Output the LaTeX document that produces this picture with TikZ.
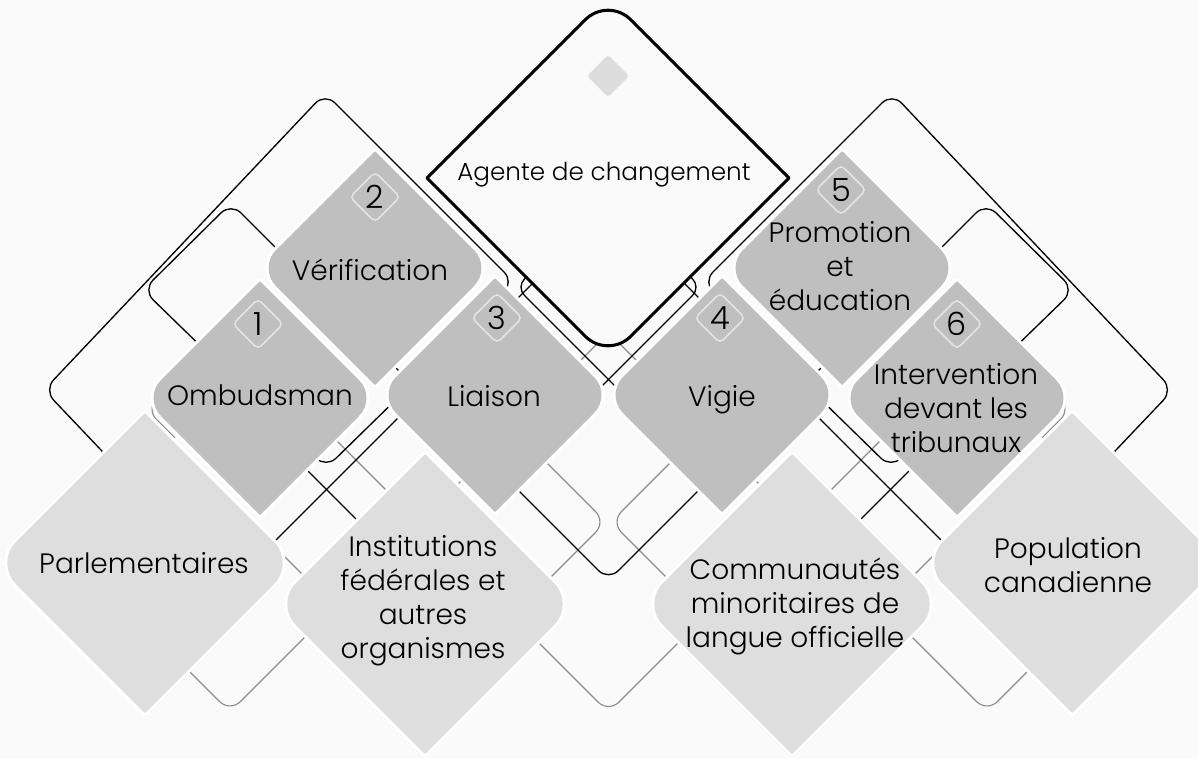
\documentclass[tikz,border=0pt]{standalone}
\usepackage{fontspec}
\setmainfont{Poppins}[UprightFont={* Light}]
\definecolor{rolegray}{RGB}{191,191,191}
\definecolor{stakegray}{RGB}{222,222,222}
\definecolor{bgcol}{RGB}{250,250,250}
\definecolor{badgecol}{RGB}{228,228,228}
\definecolor{outgray}{RGB}{140,140,140}
\definecolor{smallgray}{RGB}{220,220,220}
% cx cy h dLR dTB  (y grows downward)
\newcommand{\mydiam}[5]{({#1+#3/2},{#2-#3/2}) -- ({#1+#3-#4},{#2-#4}) .. controls ({#1+#3-0.4477*#4},{#2-0.4477*#4}) and ({#1+#3-0.4477*#4},{#2+0.4477*#4}) .. ({#1+#3-#4},{#2+#4}) -- ({#1+#5},{#2+#3-#5}) .. controls ({#1+0.4477*#5},{#2+#3-0.4477*#5}) and ({#1-0.4477*#5},{#2+#3-0.4477*#5}) .. ({#1-#5},{#2+#3-#5}) -- ({#1-#3+#4},{#2+#4}) .. controls ({#1-#3+0.4477*#4},{#2+0.4477*#4}) and ({#1-#3+0.4477*#4},{#2-0.4477*#4}) .. ({#1-#3+#4},{#2-#4}) -- ({#1-#5},{#2-#3+#5}) .. controls ({#1-0.4477*#5},{#2-#3+0.4477*#5}) and ({#1+0.4477*#5},{#2-#3+0.4477*#5}) .. ({#1+#5},{#2-#3+#5}) -- cycle}
\newcommand{\mybadge}[3]{\draw[badge] ({#1+12.5},{#2-12.5}) -- ({#1+25},#2) -- (#1,{#2+25}) -- ({#1-25},#2) -- (#1,{#2-25}) -- cycle; \node[num] (n#3) at (#1,#2) {#3};}
\tikzset{
  blk/.style={draw=black, line width=1pt, rounded corners=10.5pt},
  gry/.style={draw=outgray, line width=0.85pt, rounded corners=11pt},
  halo/.style={draw=white, fill=white, line width=4.5pt},
  lbl/.style={align=center, font=\fontsize{21}{25.5}\selectfont, text=black, inner sep=0pt},
  one/.style={anchor=base, font=\fontsize{21}{25.5}\selectfont, text=black, inner sep=0pt},
  num/.style={font=\fontsize{24}{26}\selectfont, inner sep=0pt},
  badge/.style={draw=badgecol, line width=1.1pt, rounded corners=3.5pt},
}
\begin{document}
\begin{tikzpicture}[x=0.75pt,y=-0.75pt]
\useasboundingbox (0,0) rectangle (1198,758);
\fill[bgcol] (0,0) rectangle (1198,758);
\clip (0,0) rectangle (1198,758);

% ---------- gray frames ----------
\draw[gry] (165,647) -- (230,712) -- (490,452);
\draw[gry] (1052,647) -- (987,712) -- (727,452);
\draw[gry] (300,404) -- (608.5,712.5) -- (917,404);
\draw[gry] (560,381) -- (608.5,332.5) -- (657,381);
\draw[gry] (530,446) -- (606,522) -- (540,588);
\draw[gry] (687,446) -- (611,522) -- (677,588);
\draw[gry] (255,527) -- (330,602);
\draw[gry] (962,527) -- (887,602);
\draw[gry] (175,380) -- (146,409) -- (175,438);
\draw[gry] (1042,380) -- (1071,409) -- (1042,438);

% ---------- black frames ----------
\draw[blk] (120,470) -- (44,390) -- (325,93) -- (514,282) -- (470,326);
\draw[blk] (1097,470) -- (1173,390) -- (892,93) -- (703,282) -- (747,326);
\draw[blk] (187,246.5) -- (231,203) -- (412,384) -- (326,468) -- (143,290) -- cycle;
\draw[blk] (1030,246.5) -- (986,203) -- (805,384) -- (891,468) -- (1074,290) -- cycle;
\draw[blk] (250,566) -- (575,241);
\draw[blk] (967,566) -- (642,241);
\draw[blk, rounded corners=9pt] (565,240) -- (516,287) -- (680,451);
\draw[blk, rounded corners=9pt] (652,240) -- (701,287) -- (537,451);
\draw[blk] (480,452) -- (608.5,580.5) -- (737,452);
\draw[blk] (275,438) -- (425,588);
\draw[blk] (942,438) -- (792,588);

% ---------- halos ----------
\path[halo] \mydiam{260}{398}{117}{18}{0.5};
\path[halo] \mydiam{375}{268}{117}{18}{0.5};
\path[halo] \mydiam{495}{395}{117}{18}{0.5};
\path[halo] \mydiam{722}{395}{117}{18}{0.5};
\path[halo] \mydiam{842}{268}{117}{18}{0.5};
\path[halo] \mydiam{957}{398}{117}{18}{0.5};
\path[halo] \mydiam{145}{563}{150}{21}{0.5};
\path[halo] \mydiam{425}{604}{150}{21}{0.5};
\path[halo] \mydiam{792}{604}{150}{21}{0.5};
\path[halo] \mydiam{1072}{563}{150}{21}{0.5};

% ---------- fills ----------
\path[fill=rolegray] \mydiam{260}{398}{117}{18}{0.5};
\path[fill=rolegray] \mydiam{375}{268}{117}{18}{0.5};
\path[fill=rolegray] \mydiam{495}{395}{117}{18}{0.5};
\path[fill=rolegray] \mydiam{722}{395}{117}{18}{0.5};
\path[fill=rolegray] \mydiam{842}{268}{117}{18}{0.5};
\path[fill=rolegray] \mydiam{957}{398}{117}{18}{0.5};
\path[fill=stakegray] \mydiam{145}{563}{150}{21}{0.5};
\path[fill=stakegray] \mydiam{425}{604}{150}{21}{0.5};
\path[fill=stakegray] \mydiam{792}{604}{150}{21}{0.5};
\path[fill=stakegray] \mydiam{1072}{563}{150}{21}{0.5};

% ---------- central diamond ----------
\path[fill=bgcol, draw=black, line width=2.3pt] \mydiam{608}{178}{181}{0.5}{22.6};
\path[fill=smallgray] \mydiam{608}{76}{21}{2}{2};
\node[one, font=\fontsize{18.5}{22}\selectfont] (agente) at (604,180) {Agente de changement};

% ---------- badges ----------
\mybadge{258}{324}{1}
\mybadge{375}{197}{2}
\mybadge{497}{318}{3}
\mybadge{720}{318}{4}
\mybadge{841}{190}{5}
\mybadge{957}{324}{6}

% ---------- labels ----------
\node[one] (ombudsman) at (260,405) {Ombudsman};
\node[one] (verif) at (370,280) {Vérification};
\node[one] (liaison) at (494,406) {Liaison};
\node[one] (vigie) at (722,406) {Vigie};
\node[lbl] (promo) at (840,266) {Promotion\\et\\éducation};
\node[lbl] (interv) at (956,408) {Intervention\\devant les\\tribunaux};
\node[one] (parl) at (144,573) {Parlementaires};
\node[lbl] (instit) at (423,601) {Institutions\\fédérales et\\autres\\organismes};
\node[lbl] (commun) at (795,606) {Communautés\\minoritaires de\\langue officielle};
\node[lbl] (popul) at (1068,565) {Population\\canadienne};
\end{tikzpicture}
\end{document}
